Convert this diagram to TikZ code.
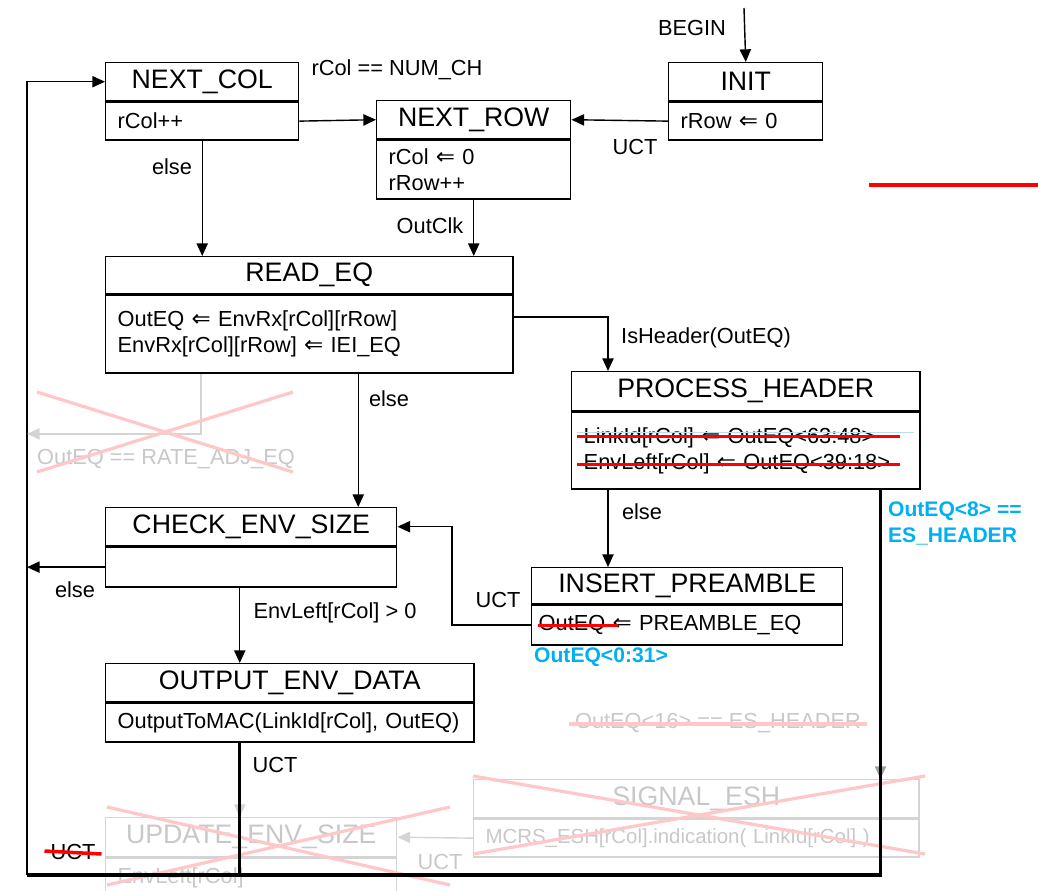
\documentclass[tikz,border=0pt]{standalone}
\usepackage{fontspec}
\setmainfont{Liberation Sans}
\newfontfamily\arrfont[Scale=1.05]{DejaVu Sans}
\usetikzlibrary{arrows.meta,calc}
\newcommand{\lassign}{{\arrfont\char"21D0}}
\definecolor{hdrblue}{RGB}{0,176,240}
\definecolor{xpink}{RGB}{255,200,200}
\definecolor{fadeln}{RGB}{212,212,212}
\definecolor{fadetx}{RGB}{200,200,200}
\definecolor{faintcyan}{RGB}{185,225,235}
\begin{document}
\begin{tikzpicture}[x=0.025cm, y=-0.025cm, line width=1pt,
  ttl/.style={draw, anchor=north west, inner sep=0pt, font=\fontsize{19}{21}\selectfont},
  bdy/.style={draw, anchor=north west, align=left, inner xsep=0.3cm, inner ysep=0pt,
    font=\fontsize{15.5}{18.8}\selectfont},
  fttl/.style={ttl, draw=fadeln, text=fadetx},
  fbdy/.style={bdy, draw=fadeln, text=fadetx},
  lbl/.style={inner sep=1pt, font=\fontsize{15.5}{18}\selectfont},
  flbl/.style={lbl, text=fadetx},
  note/.style={inner sep=1pt, align=left, text=hdrblue, font=\fontsize{15}{18.5}\selectfont\bfseries},
  arr/.style={-{Triangle[length=9pt,width=8pt]}},
  farr/.style={arr, draw=fadeln},
  thk/.style={line width=2.2pt},
  xmark/.style={xpink, line width=2.3pt},
  strike/.style={red, line width=2.5pt}]
  \useasboundingbox (0,0) rectangle (1038,890);
  \clip (0,0) rectangle (1038,890);
  % states: title box on top, action box below
  \node[ttl, minimum width=4.825cm, minimum height=0.95cm] (nextcol) at (105,62) {NEXT\_COL};
  \node[bdy, text width=4.225cm, minimum height=0.95cm] (nextcolB) at (nextcol.south west) {rCol++};
  \node[ttl, minimum width=4.85cm, minimum height=0.95cm] (nextrow) at (376,100) {NEXT\_ROW};
  \node[bdy, text width=4.25cm, minimum height=1.475cm] (nextrowB) at (nextrow.south west) {rCol \lassign\ 0\\rRow++};
  \node[ttl, minimum width=3.85cm, minimum height=0.95cm] (init) at (668,62) {INIT};
  \node[bdy, text width=3.25cm, minimum height=0.95cm] (initB) at (init.south west) {rRow \lassign\ 0};
  \node[ttl, minimum width=10.175cm, minimum height=0.925cm] (readeq) at (105,256) {READ\_EQ};
  \node[bdy, text width=9.575cm, minimum height=1.95cm] (readeqB) at (readeq.south west)
    {OutEQ \lassign\ EnvRx[rCol][rRow]\\EnvRx[rCol][rRow] \lassign\ IEI\_EQ};
  \node[ttl, minimum width=8.7cm, minimum height=0.975cm] (prochdr) at (571,371) {PROCESS\_HEADER};
  \node[bdy, text width=8.1cm, minimum height=1.925cm] (prochdrB) at (prochdr.south west)
    {LinkId[rCol] \lassign\ OutEQ<63:48>\\EnvLeft[rCol] \lassign\ OutEQ<39:18>};
  \node[ttl, minimum width=7.275cm, minimum height=0.95cm] (check) at (105,507) {CHECK\_ENV\_SIZE};
  \node[bdy, text width=6.675cm, minimum height=1cm] (checkB) at (check.south west) {};
  \node[ttl, minimum width=7.775cm, minimum height=0.9cm] (insert) at (531,567) {INSERT\_PREAMBLE};
  \node[bdy, inner xsep=0.175cm, text width=7.425cm, minimum height=1cm] (insertB) at (insert.south west)
    {OutEQ \lassign\ PREAMBLE\_EQ};
  \node[ttl, minimum width=9.2cm, minimum height=0.95cm] (output) at (105,663) {OUTPUT\_ENV\_DATA};
  \node[bdy, text width=8.6cm, minimum height=0.975cm] (outputB) at (output.south west)
    {OutputToMAC(LinkId[rCol], OutEQ)};
  % helper points
  \coordinate (begin) at (744,8);
  \coordinate (lc) at (27,875);
  \coordinate (rdout) at ($(readeqB.south)+(49,0)$);
  \coordinate (hdrin) at ($(prochdr.north west)+(37,0)$);
  \coordinate (hdrout) at ($(prochdrB.south east)+(-40,0)$);
  \coordinate (outout) at ($(outputB.south)+(-50,0)$);
  \coordinate (rateturn) at ($(readeqB.south west)+(96,60)$);
  % transitions
  \draw[arr] (begin) -- (init.north);
  \draw[arr] (initB.west) -- (nextrow.east);
  \draw[arr] (nextcolB.east) -- (nextrow.west);
  \draw[arr] (nextcolB.south) -- (nextcolB.south |- readeq.north);
  \draw[arr] (nextrowB.south) -- (nextrowB.south |- readeq.north);
  \draw[arr] ($(readeqB.east)+(0,-17)$) -| (hdrin);
  \draw[arr] (rdout) -- (rdout |- check.north);
  \draw[arr] (hdrin |- prochdrB.south) -- (hdrin |- insert.north);
  \draw[arr] (insertB.west) -- ++(-79,0) |- (check.east);
  \draw[arr] (checkB.west) -- (checkB.west -| lc);
  \draw[arr] (outout |- checkB.south) -- (outout |- output.north);
  \draw[arr] (lc) |- (nextcol.west);
  % labels
  \node[lbl] (tbegin) at (692,28) {BEGIN};
  \node[lbl] (tnumch) at (397,70) {rCol == NUM\_CH};
  \node[lbl] (tuct1) at (635,147) {UCT};
  \node[lbl] (telse1) at (172,167) {else};
  \node[lbl] (toutclk) at (430,226) {OutClk};
  \node[lbl] (tishdr) at (706,338) {IsHeader(OutEQ)};
  \node[lbl] (telse2) at (389,399) {else};
  \node[lbl] (telse3) at (642,512) {else};
  \node[lbl] (telse4) at (75,590) {else};
  \node[lbl] (tenvleft) at (335,613) {EnvLeft[rCol] > 0};
  \node[lbl] (tuct2) at (498,600) {UCT};
  \node[lbl] (tuct3) at (275,765) {UCT};
  \node[lbl] (tuct4) at (73,852) {UCT};
  \node[note, anchor=west] (tes8) at (886,523) {OutEQ<8> ==\\ES\_HEADER};
  \node[note] (tes031) at (601,657) {OutEQ<0:31>};
  % dropped parts, greyed and crossed out
  \node[fttl, minimum width=11.125cm, minimum height=0.95cm] (signal) at (473,779) {SIGNAL\_ESH};
  \node[fbdy, font=\fontsize{14.5}{18}\selectfont, text width=10.525cm, minimum height=0.95cm] (signalB) at (signal.south west)
    {MCRS\_ESH[rCol].indication( LinkId[rCol] )};
  \node[fttl, minimum width=7.275cm, minimum height=0.975cm] (update) at (105,817) {UPDATE\_ENV\_SIZE};
  \node[fbdy, text width=6.675cm, minimum height=1cm] (updateB) at (update.south west) {EnvLeft[rCol]};
  \draw[farr] (signalB.west) -- (update.east);
  \draw[farr] ($(outout)+(0,40)$) -- (outout |- update.north);
  \draw[arr, draw=gray!75] ($(hdrout)+(0,250)$) -- (hdrout |- signal.north);
  \draw[farr] (readeqB.south -| rateturn) -- (rateturn) -- (rateturn -| lc);
  \node[flbl] (trate) at (166,459) {OutEQ == RATE\_ADJ\_EQ};
  \node[flbl] (tuct5) at (440,862) {UCT};
  \node[flbl] (tes16) at (718,723) {OutEQ<16> == ES\_HEADER};
  \draw[xmark] ($(tes16.west)+(-4,1)$) -- ($(tes16.east)+(4,1)$);
  \draw[xmark] (37,392) -- (293,472);
  \draw[xmark] (37,472) -- (293,392);
  \draw[xmark] (473,776) -- (925,854);
  \draw[xmark] (473,854) -- (925,776);
  \draw[xmark] (107,807) -- (450,885);
  \draw[xmark] (107,885) -- (450,807);
  % return paths to the left column
  \draw[thk] (hdrout) |- (lc);
  \draw[thk] (outout) -- (outout |- lc);
  % strike-outs
  \draw[faintcyan, line width=0.8pt] ($(prochdrB.north west)+(6,21)$) -- ($(prochdrB.north east)+(-7,21)$);
  \draw[strike] ($(prochdrB.north west)+(6,25)$) -- ($(prochdrB.north west)+(329,25)$);
  \draw[strike] ($(prochdrB.north west)+(6,53)$) -- ($(prochdrB.north west)+(329,53)$);
  \draw[strike] ($(insertB.north west)+(7,21)$) -- ($(insertB.north west)+(87,21)$);
  \draw[strike] ($(tuct4.west)+(-4,-1)$) -- ($(tuct4.east)+(4,2)$);
  \draw[red, line width=2.8pt] (869,185) -- (1038,185);
\end{tikzpicture}
\end{document}
